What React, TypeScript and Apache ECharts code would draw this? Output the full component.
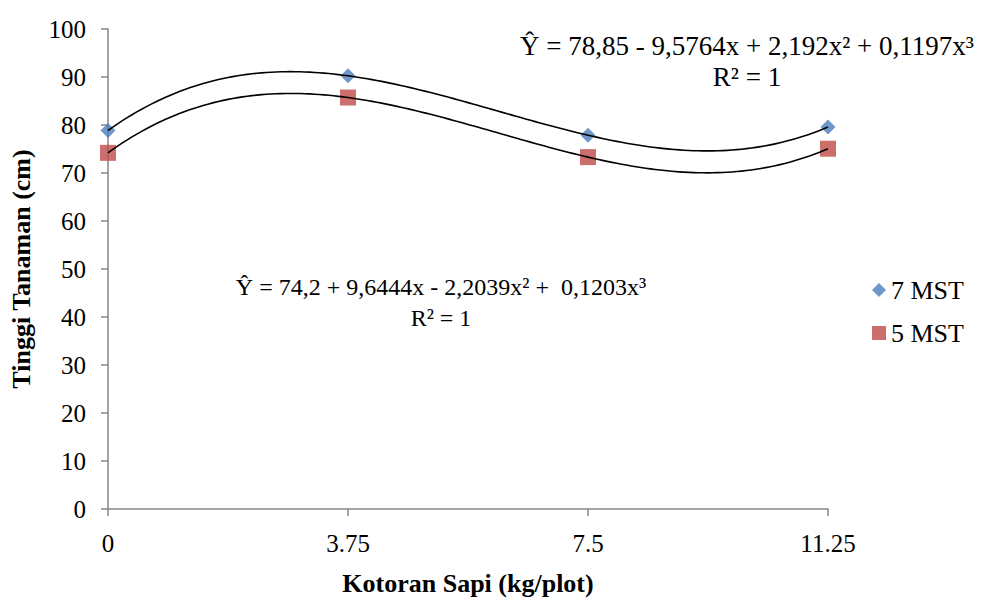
import React, { useEffect, useRef } from "react";
import * as echarts from "echarts";

const X_VALUES = [0, 3.75, 7.5, 11.25];
const X_TICKS = ["0", "3.75", "7.5", "11.25"];
const MST7 = [78.85, 90.25, 77.87, 79.59];
const MST5 = [74.2, 85.72, 73.31, 75.06];
const SERIES_NAMES = ["7 MST", "5 MST"];
const EQ7 = "Ŷ = 78,85 - 9,5764x + 2,192x² + 0,1197x³";
const EQ5 = "Ŷ = 74,2 + 9,6444x - 2,2039x² +  0,1203x³";
const R2 = "R² = 1";

const FONT = "Liberation Serif, Times New Roman, serif";

function lagrange(xs: number[], ys: number[], x: number): number {
  let s = 0;
  for (let i = 0; i < xs.length; i++) {
    let t = ys[i];
    for (let j = 0; j < xs.length; j++) {
      if (j !== i) t *= (x - xs[j]) / (xs[i] - xs[j]);
    }
    s += t;
  }
  return s;
}

function trendSeries(ys: number[]) {
  return {
    type: "custom",
    silent: true,
    z: 5,
    data: [[X_VALUES[0], ys[0]]],
    renderItem: (_params: any, api: any) => {
      const pts: number[][] = [];
      const n = 150;
      const x0 = X_VALUES[0];
      const x1 = X_VALUES[X_VALUES.length - 1];
      for (let i = 0; i <= n; i++) {
        const x = x0 + ((x1 - x0) * i) / n;
        pts.push(api.coord([x, lagrange(X_VALUES, ys, x)]));
      }
      return {
        type: "polyline",
        shape: { points: pts },
        style: { stroke: "#000", lineWidth: 1.6, fill: "none" },
      };
    },
  };
}

function label(text: string, x: number, y: number, size: number) {
  return {
    type: "text",
    x,
    y,
    style: {
      text,
      fontFamily: FONT,
      fontSize: size,
      fill: "#000",
      textAlign: "center",
      textVerticalAlign: "middle",
    },
  };
}

export default function App() {
  const ref = useRef<HTMLDivElement>(null);
  useEffect(() => {
    if (!ref.current) return;
    const chart = echarts.init(ref.current, undefined, { renderer: "svg" });
    chart.setOption({
      animation: false,
      textStyle: { fontFamily: FONT },
      grid: { left: 108, right: 171, top: 29, bottom: 83, containLabel: false },
      xAxis: {
        type: "value",
        min: 0,
        max: 11.25,
        interval: 3.75,
        name: "Kotoran Sapi (kg/plot)",
        nameLocation: "middle",
        nameGap: 61,
        nameTextStyle: { fontFamily: FONT, fontSize: 26, fontWeight: "bold", color: "#000" },
        axisLine: { lineStyle: { color: "#868686", width: 1.5 } },
        axisTick: { show: true, length: 7, lineStyle: { color: "#868686", width: 1.5 } },
        axisLabel: {
          fontFamily: FONT,
          fontSize: 25,
          color: "#000",
          margin: 22,
          formatter: (v: number) => {
            const i = X_VALUES.indexOf(v);
            return i >= 0 ? X_TICKS[i] : "";
          },
        },
        splitLine: { show: false },
      },
      yAxis: {
        type: "value",
        min: 0,
        max: 100,
        interval: 10,
        name: "Tinggi Tanaman (cm)",
        nameLocation: "middle",
        nameGap: 74,
        nameTextStyle: { fontFamily: FONT, fontSize: 26, fontWeight: "bold", color: "#000" },
        axisLine: { show: true, lineStyle: { color: "#868686", width: 1.5 } },
        axisTick: { show: true, length: 7, lineStyle: { color: "#868686", width: 1.5 } },
        axisLabel: { fontFamily: FONT, fontSize: 25, color: "#000", margin: 22 },
        splitLine: { show: false },
      },
      legend: {
        orient: "vertical",
        left: 867,
        top: 272,
        itemGap: 17,
        itemWidth: 14,
        itemHeight: 14,
        data: [
          { name: SERIES_NAMES[0], icon: "diamond" },
          { name: SERIES_NAMES[1], icon: "rect" },
        ],
        textStyle: { fontFamily: FONT, fontSize: 26, color: "#000" },
      },
      graphic: [
        label(EQ7, 747, 46, 27),
        label(R2, 747, 77, 27),
        label(EQ5, 441, 287, 24),
        label(R2, 441, 318, 24),
      ],
      series: [
        {
          name: SERIES_NAMES[0],
          type: "scatter",
          symbol: "diamond",
          symbolSize: 15,
          itemStyle: { color: "#4a7ebb" },
          data: X_VALUES.map((x, i) => [x, MST7[i]]),
          z: 2,
        },
        {
          name: SERIES_NAMES[1],
          type: "scatter",
          symbol: "rect",
          symbolSize: 16,
          itemStyle: { color: "#be4b48" },
          data: X_VALUES.map((x, i) => [x, MST5[i]]),
          z: 2,
        },
        trendSeries(MST7),
        trendSeries(MST5),
      ],
    });
    return () => chart.dispose();
  }, []);
  return (
    <div
      ref={ref}
      style={{ position: "absolute", left: 0, top: 0, width: 999, height: 601 }}
    />
  );
}
